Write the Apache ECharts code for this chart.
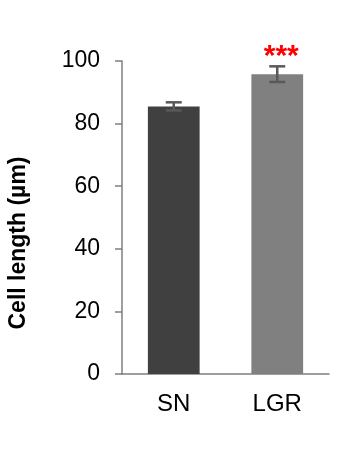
<!DOCTYPE html>
<html><head><meta charset="utf-8">
<script src="https://cdn.jsdelivr.net/npm/echarts@6/dist/echarts.min.js"></script>
<style>html,body{margin:0;padding:0;background:#fff}#c{width:345px;height:450px}</style>
</head><body><div id="c"></div>
<script>
var categories = ['SN', 'LGR'];
var values = [85.5, 95.8];
var errors = [1.3, 2.5];
var significance = ['', '***'];
var barColors = ['#404040', '#808080'];
var yTicks = [0, 20, 40, 60, 80, 100];

var chart = echarts.init(document.getElementById('c'));
chart.setOption({
  animation: false,
  grid: {left: 122, right: 16, top: 61, bottom: 76},
  xAxis: {
    type: 'category', data: categories,
    axisLine: {lineStyle: {color: '#7f7f7f', width: 1.5}},
    axisTick: {show: false},
    axisLabel: {color: '#000', fontSize: 24, fontFamily: 'Liberation Sans', margin: 18}
  },
  yAxis: {
    type: 'value', min: 0, max: 100, interval: 20,
    axisLine: {show: true, lineStyle: {color: '#7f7f7f', width: 1.5}},
    axisTick: {show: true, length: 7, lineStyle: {color: '#7f7f7f', width: 1.5}},
    splitLine: {show: false},
    axisLabel: {color: '#000', fontSize: 23, fontFamily: 'Liberation Sans', margin: 22,
      formatter: function (v) { return yTicks.indexOf(v) >= 0 ? String(v) : ''; }}
  },
  graphic: [{
    type: 'text', x: 19, y: 243, rotation: Math.PI / 2,
    style: {text: 'Cell length (\u00b5m)', fill: '#000', font: 'bold 23px "Liberation Sans"',
      align: 'center', verticalAlign: 'middle'}
  }],
  series: [{
    type: 'bar', barWidth: '50%',
    data: values.map(function (v, i) { return {value: v, itemStyle: {color: barColors[i]}}; }),
    z: 2
  }, {
    type: 'custom', z: 3,
    data: values.map(function (v, i) { return [i, v, errors[i]]; }),
    renderItem: function (params, api) {
      var i = api.value(0), v = api.value(1), e = api.value(2);
      var hi = api.coord([i, v + e]), lo = api.coord([i, v - e]);
      var w = 8;
      var st = {stroke: '#595959', lineWidth: 2.5};
      var children = [
        {type: 'line', shape: {x1: hi[0], y1: hi[1], x2: lo[0], y2: lo[1]}, style: st},
        {type: 'line', shape: {x1: hi[0] - w, y1: hi[1], x2: hi[0] + w, y2: hi[1]}, style: st},
        {type: 'line', shape: {x1: lo[0] - w, y1: lo[1], x2: lo[0] + w, y2: lo[1]}, style: st}
      ];
      var s = significance[params.dataIndex];
      if (s) {
        children.push({type: 'text', x: hi[0] + 4, y: hi[1] - 25,
          style: {text: s, fill: '#ff0000', font: 'bold 30px "Liberation Sans"',
            align: 'center', verticalAlign: 'top'}});
      }
      return {type: 'group', children: children};
    }
  }]
});
</script></body></html>
